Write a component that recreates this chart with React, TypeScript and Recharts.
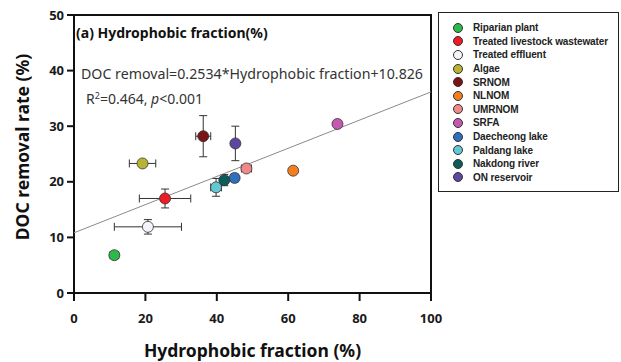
import React from 'react'
import { ScatterChart, Scatter, XAxis, YAxis, ErrorBar, ReferenceArea } from 'recharts'

const sources = [
  'Riparian plant',
  'Treated livestock wastewater',
  'Treated effluent',
  'Algae',
  'SRNOM',
  'NLNOM',
  'UMRNOM',
  'SRFA',
  'Daecheong lake',
  'Paldang lake',
  'Nakdong river',
  'ON reservoir',
]
const colors = [
  '#2db84a', '#ee1c25', '#f4f4fa', '#b8b432', '#7b1416', '#f47f20',
  '#f08a8a', '#c45ab0', '#2f6fbd', '#63c7d4', '#0b5c5a', '#5e47a0',
]
// hydrophobic fraction (%) and DOC removal (%) with their error
const hydrophobic = [11.3, 25.5, 20.7, 19.2, 36.2, 61.4, 48.3, 73.8, 45.0, 39.8, 42.1, 45.2]
const hydrophobicErr = [1.2, 7.2, 9.4, 3.7, 2.1, 0.4, 1.4, 0.4, 0.8, 1.5, 1.0, 0.3]
const removal = [6.8, 17.0, 11.9, 23.3, 28.2, 22.0, 22.4, 30.4, 20.7, 19.0, 20.3, 26.9]
const removalErr = [0.5, 1.7, 1.3, 0.4, 3.7, 0.4, 0.5, 0.4, 0.7, 1.6, 1.0, 3.1]

const slope = 0.2534
const intercept = 10.826
const fitX = [0, 100]

const xTicks = [0, 20, 40, 60, 80, 100]
const yTicks = [0, 10, 20, 30, 40, 50]

const fitData = fitX.map((x) => ({ x, y: slope * x + intercept }))

const Dot = (props: any) => (
  <circle cx={props.cx} cy={props.cy} r={5.5} fill={props.fill} stroke="#333" strokeWidth={0.8} />
)

const tickStyle = { fontFamily: 'Noto Sans', fontWeight: 700, fontSize: 13, fill: '#1a1a1a' }
const titleStyle = { fontFamily: 'Noto Sans', fontWeight: 700, fontSize: 17.5, fill: '#111' }

const YTitle = () => (
  <text
    transform="translate(22,147) rotate(-90)"
    textAnchor="middle"
    dominantBaseline="central"
    style={titleStyle}
  >
    DOC removal rate (%)
  </text>
)

export default function App() {
  return (
    <div style={{ position: 'absolute', left: 0, top: 0, width: 621, height: 362, background: '#fff' }}>
      <ScatterChart width={621} height={362} margin={{ top: 15, right: 190, bottom: 0, left: 0 }}>
        <XAxis
          type="number"
          dataKey="x"
          domain={[0, 100]}
          ticks={xTicks}
          tick={tickStyle}
          tickSize={8}
          tickMargin={13}
          height={69}
          axisLine={{ stroke: '#111', strokeWidth: 2 }}
          tickLine={{ stroke: '#111', strokeWidth: 2 }}
          label={{ value: 'Hydrophobic fraction (%)', position: 'insideBottom', offset: 5, style: titleStyle }}
        />
        <YAxis
          type="number"
          dataKey="y"
          domain={[0, 50]}
          ticks={yTicks}
          tick={tickStyle}
          tickSize={7}
          tickMargin={3}
          width={74}
          axisLine={{ stroke: '#111', strokeWidth: 2 }}
          tickLine={{ stroke: '#111', strokeWidth: 2 }}
          label={{ content: YTitle }}
        />
        <ReferenceArea x1={0} x2={100} y1={0} y2={50} fill="none" stroke="#111" strokeWidth={2} />
        <Scatter
          data={fitData}
          line={{ stroke: '#8a8a8a', strokeWidth: 1 }}
          shape={() => null}
          legendType="none"
          isAnimationActive={false}
        />
        {sources.map((name, i) => (
          <Scatter
            key={name}
            name={name}
            data={[{ x: hydrophobic[i], y: removal[i], ex: hydrophobicErr[i], ey: removalErr[i] }]}
            fill={colors[i]}
            shape={Dot}
            isAnimationActive={false}
          >
            <ErrorBar dataKey="ex" direction="x" width={4} stroke="#333" strokeWidth={1} isAnimationActive={false} />
            <ErrorBar dataKey="ey" direction="y" width={4} stroke="#333" strokeWidth={1} isAnimationActive={false} />
          </Scatter>
        ))}
      </ScatterChart>
      <svg width={621} height={362} style={{ position: 'absolute', left: 0, top: 0, pointerEvents: 'none' }}>
        <text x={76} y={38} fontFamily="Noto Sans" fontWeight={700} fontSize={14} fill="#111">
          (a) Hydrophobic fraction(%)
        </text>
        <text x={81} y={79} fontFamily="Noto Sans" fontSize={15} fill="#333" textLength={342} lengthAdjust="spacingAndGlyphs">
          DOC removal=0.2534*Hydrophobic fraction+10.826
        </text>
        <text x={86} y={104} fontFamily="Noto Sans" fontSize={14} fill="#333">
          R<tspan dy={-5} fontSize={9}>2</tspan>
          <tspan dy={5}>=0.464, </tspan>
          <tspan fontStyle="italic">p</tspan>
          <tspan>&lt;0.001</tspan>
        </text>
      </svg>
      <div
        style={{
          position: 'absolute',
          left: 438,
          top: 12,
          width: 181,
          height: 180,
          border: '1.5px solid #222',
          boxSizing: 'border-box',
          fontFamily: 'Liberation Sans',
          fontWeight: 700,
          fontSize: 10,
          color: '#222',
          paddingTop: 8,
          whiteSpace: 'nowrap',
        }}
      >
        {sources.map((name, i) => (
          <div key={name} style={{ display: 'flex', alignItems: 'center', height: 13.6 }}>
            <span
              style={{
                display: 'inline-block',
                flex: 'none',
                width: 10,
                height: 10,
                borderRadius: '50%',
                background: colors[i],
                border: '1px solid #333',
                boxSizing: 'border-box',
                marginLeft: 14,
                marginRight: 10,
              }}
            />
            <span style={{ letterSpacing: -0.1 }}>{name}</span>
          </div>
        ))}
      </div>
    </div>
  )
}
